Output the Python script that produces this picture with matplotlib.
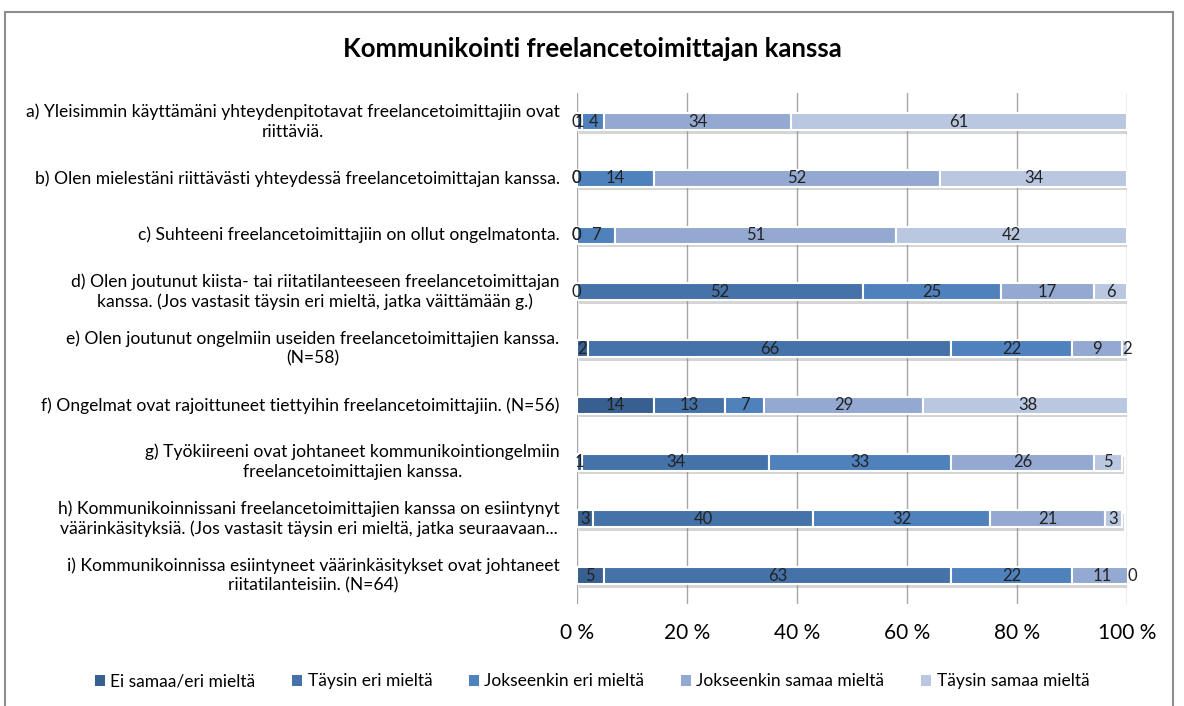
import matplotlib
matplotlib.use("Agg")
import matplotlib.pyplot as plt
import matplotlib.patheffects as pe
import matplotlib.transforms as mtransforms
from matplotlib.patches import Rectangle
import numpy as np

plt.rcParams['font.family'] = 'Lato'

# statements (top to bottom)
statements = [
    "a) Yleisimmin käyttämäni yhteydenpitotavat freelancetoimittajiin ovat\nriittäviä.",
    "b) Olen mielestäni riittävästi yhteydessä freelancetoimittajan kanssa.",
    "c) Suhteeni freelancetoimittajiin on ollut ongelmatonta.",
    "d) Olen joutunut kiista- tai riitatilanteeseen freelancetoimittajan\nkanssa. (Jos vastasit täysin eri mieltä, jatka väittämään g.)",
    "e) Olen joutunut ongelmiin useiden freelancetoimittajien kanssa.\n(N=58)",
    "f) Ongelmat ovat rajoittuneet tiettyihin freelancetoimittajiin. (N=56)",
    "g) Työkiireeni ovat johtaneet kommunikointiongelmiin\nfreelancetoimittajien kanssa.",
    "h) Kommunikoinnissani freelancetoimittajien kanssa on esiintynyt\nväärinkäsityksiä. (Jos vastasit täysin eri mieltä, jatka seuraavaan...",
    "i) Kommunikoinnissa esiintyneet väärinkäsitykset ovat johtaneet\nriitatilanteisiin. (N=64)",
]

series_names = ["Ei samaa/eri mieltä", "Täysin eri mieltä", "Jokseenkin eri mieltä",
                "Jokseenkin samaa mieltä", "Täysin samaa mieltä"]

ei_samaa = [0, 0, 0, 0, 2, 14, 1, 3, 5]
taysin_eri = [1, 0, 0, 52, 66, 13, 34, 40, 63]
jokseenkin_eri = [4, 14, 7, 25, 22, 7, 33, 32, 22]
jokseenkin_samaa = [34, 52, 51, 17, 9, 29, 26, 21, 11]
taysin_samaa = [61, 34, 42, 6, 2, 38, 5, 3, 0]

colors = ["#375f8f", "#4572a8", "#4f81bd", "#94a9d1", "#b9c7e1"]

series = [ei_samaa, taysin_eri, jokseenkin_eri, jokseenkin_samaa, taysin_samaa]

fig = plt.figure(figsize=(11.84, 7.06), dpi=100)
ax = fig.add_axes([0.487, 0.1445, 0.465, 0.7235])

y = np.arange(len(statements))
left = np.zeros(len(statements))
for name, vals, col in zip(series_names, series, colors):
    vals = np.array(vals, dtype=float)
    bars = ax.barh(y, vals, left=left, height=0.3, color=col, edgecolor="white",
                   linewidth=1.5, label=name, zorder=3)
    for b in bars:
        b.set_path_effects([pe.SimplePatchShadow(offset=(1.5, -2.5), shadow_rgbFace="#888888", alpha=0.35),
                            pe.Normal()])
    for yi, l, v in zip(y, left, vals):
        ax.text(l + v / 2, yi, f"{int(v)}", ha="center", va="center", fontsize=12,
                color="#222222", zorder=4)
    left += vals

ax.set_xlim(0, 100)
ax.set_ylim(len(statements) - 0.5, -0.5)
ax.set_yticks(y)
ax.set_yticklabels([])

# category labels: each line centred under the widest line, right edge next to the axis
renderer = fig.canvas.get_renderer()
right_edge = ax.transAxes.transform((-0.031, 0))[0]
line_h = 20  # px between lines
for yi, s in zip(y, statements):
    lines = s.split("\n")
    texts = [ax.text(0, 0, ln, fontsize=12.6) for ln in lines]
    widths = [t.get_window_extent(renderer).width for t in texts]
    wmax = max(widths)
    ymid = ax.transData.transform((0, yi))[1]
    n = len(lines)
    for k, t in enumerate(texts):
        xpix = right_edge - wmax / 2
        ypix = ymid + (n - 1) / 2 * line_h - k * line_h
        t.set_transform(mtransforms.IdentityTransform())
        t.set_position((xpix, ypix))
        t.set_ha("center")
        t.set_va("center")

ax.set_xticks([0, 20, 40, 60, 80, 100])
ax.set_xticklabels([f"{t} %" for t in [0, 20, 40, 60, 80, 100]], fontsize=15)
ax.tick_params(length=0, axis="both")
ax.tick_params(axis="x", pad=14)
ax.grid(axis="x", color="#a6a6a6", linewidth=1, zorder=0)
for s in ax.spines.values():
    s.set_visible(False)

fig.suptitle("Kommunikointi freelancetoimittajan kanssa", x=0.5, y=0.947,
             fontsize=18.5, fontweight="bold")

leg = ax.legend(loc="center", bbox_to_anchor=(0.5, 0.035), bbox_transform=fig.transFigure,
                ncol=5, frameon=False, fontsize=12.5, handlelength=0.6, handleheight=0.6,
                handletextpad=0.3, columnspacing=2.1)
for h in leg.legend_handles:
    h.set_path_effects([])
    h.set_edgecolor("none")

fig.patches.append(Rectangle((5 / 1184, -0.01), 1168 / 1184, 1 - 12 / 706 + 0.01,
                             transform=fig.transFigure, fill=False, edgecolor="#8c8c8c",
                             linewidth=1.5))

fig.savefig("out.png", dpi=100)
